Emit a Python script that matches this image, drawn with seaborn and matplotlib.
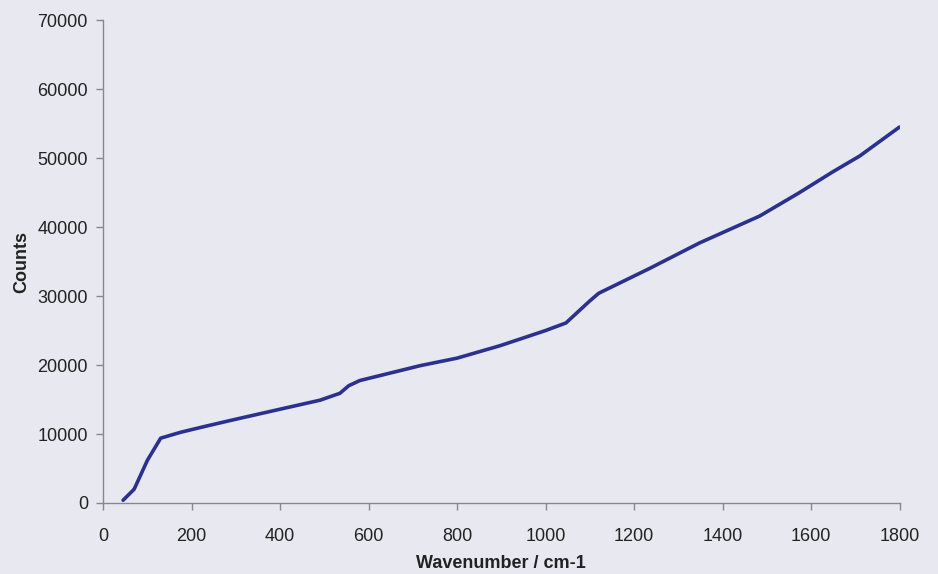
import matplotlib
matplotlib.use("Agg")
import matplotlib.pyplot as plt
import seaborn as sns
import pandas as pd

wavenumber = [45, 70, 100, 130, 175, 220, 290, 400, 490, 535, 555, 580, 716,
              800, 897, 1000, 1046, 1100, 1120, 1235, 1348, 1484, 1574, 1649,
              1710, 1800]
counts = [400, 2000, 6200, 9400, 10250, 10950, 12000, 13600, 14900, 15900,
          17000, 17750, 19900, 21000, 22800, 25000, 26100, 29300, 30400, 34000,
          37700, 41600, 45000, 48000, 50300, 54500]
x_ticks = [0, 200, 400, 600, 800, 1000, 1200, 1400, 1600, 1800]
y_ticks = [0, 10000, 20000, 30000, 40000, 50000, 60000, 70000]

df = pd.DataFrame({"Wavenumber": wavenumber, "Counts": counts})

sns.set_style("ticks")
plt.rcParams['font.family'] = ['Liberation Sans', 'DejaVu Sans']

bg = "#e8e8f0"
fig = plt.figure(figsize=(9.38, 5.74), dpi=100, facecolor=bg)
ax = fig.add_axes([0.11, 0.1237, 0.849, 0.8413])
ax.set_facecolor(bg)

sns.lineplot(data=df, x="Wavenumber", y="Counts", ax=ax, color="#2b318f",
             linewidth=2.6)

ax.set_xlim(0, 1800)
ax.set_ylim(0, 70000)
ax.set_xticks(x_ticks)
ax.set_yticks(y_ticks)
ax.tick_params(axis="both", labelsize=13, colors="#888888", labelcolor="#222222",
               length=5, width=1)
ax.tick_params(axis="x", pad=13)
ax.tick_params(axis="y", pad=6)
for s in ["top", "right"]:
    ax.spines[s].set_visible(False)
for s in ["left", "bottom"]:
    ax.spines[s].set_color("#888888")
    ax.spines[s].set_linewidth(1)

ax.set_xlabel("Wavenumber / cm-1", fontsize=13, fontweight="bold", color="#222222", labelpad=7)
ax.set_ylabel("Counts", fontsize=13, fontweight="bold", color="#222222", labelpad=5)

fig.savefig("out.png", dpi=100, facecolor=bg)
